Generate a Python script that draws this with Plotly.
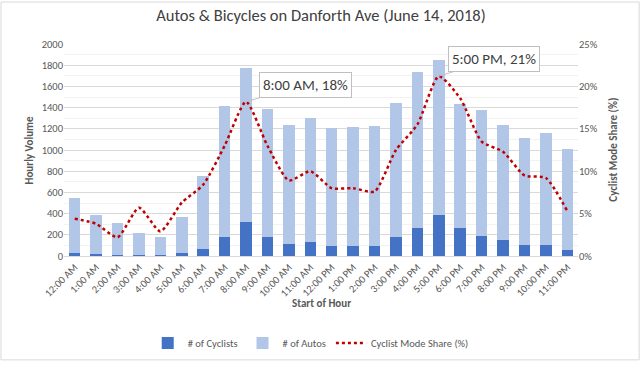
import plotly.graph_objects as go

hours = ["12:00 AM", "1:00 AM", "2:00 AM", "3:00 AM", "4:00 AM", "5:00 AM", "6:00 AM",
         "7:00 AM", "8:00 AM", "9:00 AM", "10:00 AM", "11:00 AM", "12:00 PM", "1:00 PM",
         "2:00 PM", "3:00 PM", "4:00 PM", "5:00 PM", "6:00 PM", "7:00 PM", "8:00 PM",
         "9:00 PM", "10:00 PM", "11:00 PM"]
cyclists = [24, 15, 7, 12, 5, 24, 62, 180, 323, 180, 110, 130, 97, 97, 93, 180, 268, 390,
            268, 186, 152, 106, 106, 54]
autos = [519, 373, 305, 205, 175, 342, 689, 1233, 1447, 1206, 1129, 1176, 1115, 1121, 1131,
         1263, 1466, 1463, 1170, 1193, 1087, 1011, 1051, 956]
mode_share = [4.4, 3.8, 2.2, 5.7, 2.9, 6.3, 8.4, 13.0, 18.2, 13.0, 8.9, 10.0, 8.0, 8.0, 7.6,
              12.5, 15.5, 21.2, 18.6, 13.5, 12.3, 9.5, 9.2, 5.3]

FONT = "Carlito, Lato, Open Sans, sans-serif"
GRAY = "#595959"

fig = go.Figure()
fig.add_trace(go.Bar(x=hours, y=cyclists, name="# of Cyclists", marker_color="#4472C4",
                     marker_line_width=0))
fig.add_trace(go.Bar(x=hours, y=autos, name="# of Autos", marker_color="#B2C6E8",
                     marker_line_width=0))
fig.add_trace(go.Scatter(x=hours, y=mode_share, name="Cyclist Mode Share (%)", yaxis="y2",
                         mode="lines", line=dict(color="#C00000", width=2.5, dash="dot",
                                                 shape="spline", smoothing=0.6)))

fig.add_annotation(x="8:00 AM", y=18.2, yref="y2", text="8:00 AM, 18%", showarrow=True,
                   arrowhead=0, arrowwidth=1, arrowcolor="#BFBFBF", ax=59, ay=-17,
                   bgcolor="white", bordercolor="#BFBFBF", borderwidth=1, borderpad=3,
                   font=dict(family=FONT, size=15, color="#404040"))
fig.add_annotation(x="5:00 PM", y=21.2, yref="y2", text="5:00 PM, 21%", showarrow=True,
                   arrowhead=0, arrowwidth=1, arrowcolor="#BFBFBF", ax=55, ay=-17,
                   bgcolor="white", bordercolor="#BFBFBF", borderwidth=1, borderpad=3,
                   font=dict(family=FONT, size=15, color="#404040"))
fig.add_annotation(xref="paper", yref="paper", x=0.5, y=-0.265, text="<b>Start of Hour</b>",
                   showarrow=False, font=dict(family=FONT, size=11, color=GRAY))
fig.add_annotation(xref="paper", yref="paper", x=-0.0856, y=0.5, text="<b>Hourly Volume</b>",
                   textangle=-90, showarrow=False, font=dict(family=FONT, size=11, color=GRAY))
fig.add_annotation(xref="paper", yref="paper", x=1.084, y=0.5,
                   text="<b>Cyclist Mode Share (%)</b>", textangle=-90, showarrow=False,
                   font=dict(family=FONT, size=11, color=GRAY))

fig.add_shape(type="rect", xref="paper", yref="paper", x0=-0.1226, x1=1.119, y0=-0.49,
              y1=1.198, line=dict(color="#D9D9D9", width=1), layer="below")

fig.update_layout(
    width=640, height=370,
    margin=dict(l=64, r=62, t=44, b=108),
    paper_bgcolor="white", plot_bgcolor="white",
    barmode="stack", bargap=0.46,
    font=dict(family=FONT, color=GRAY),
    title=dict(text="Autos & Bicycles on Danforth Ave (June 14, 2018)", x=0.5, xref="paper",
               y=0.958, yanchor="middle", font=dict(family=FONT, size=16.5, color="#404040")),
    xaxis=dict(tickangle=-45, tickfont=dict(size=10.5, color=GRAY), showline=True,
               linecolor="#D9D9D9", ticks="", automargin=False),
    yaxis=dict(range=[0, 2000], dtick=200, tickfont=dict(size=10.5, color=GRAY),
               gridcolor="#D9D9D9", zeroline=False, automargin=False,
               minor=dict(dtick=100, showgrid=True, gridcolor="#F2F2F2")),
    yaxis2=dict(range=[0, 25], dtick=5, ticksuffix="%", overlaying="y", side="right",
                showgrid=False, zeroline=False, automargin=False,
                tickfont=dict(size=10.5, color=GRAY)),
    legend=dict(orientation="h", x=0.48, xanchor="center", y=-0.41, yanchor="middle",
                font=dict(size=10.5, color=GRAY), traceorder="normal"),
)

post = ("var s=document.documentElement.style;s.margin='0';s.padding='0';s.overflow='hidden';"
        "var b=document.body.style;b.margin='0';b.padding='0';b.overflow='hidden';")
fig.write_html("out.html", post_script=post,
               config={"displayModeBar": False, "responsive": False})
